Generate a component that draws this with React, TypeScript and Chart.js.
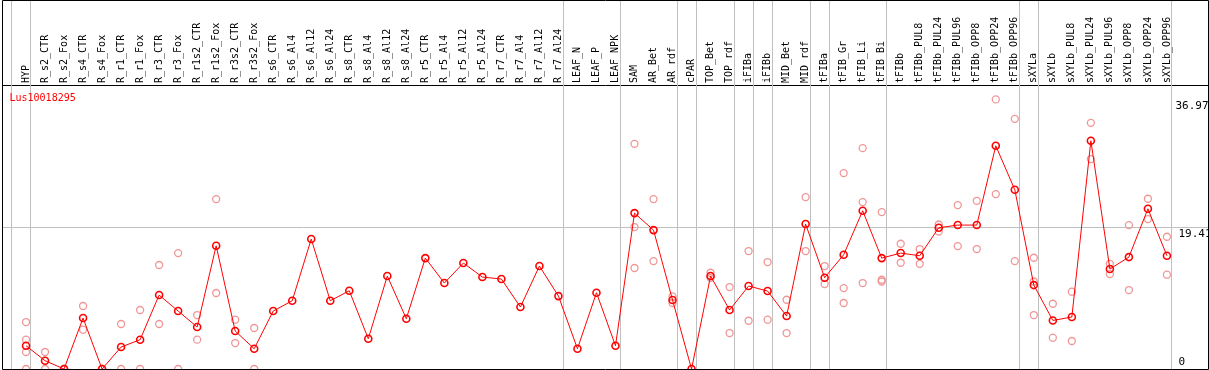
import React, { useEffect, useRef } from "react";
import { Chart, registerables } from "chart.js";

Chart.register(...registerables);

const title = "Lus10018295";

const categories = [
  "HYP", "R_s2_CTR", "R_s2_Fox", "R_s4_CTR", "R_s4_Fox", "R_r1_CTR", "R_r1_Fox", "R_r3_CTR", "R_r3_Fox",
  "R_r1s2_CTR", "R_r1s2_Fox", "R_r3s2_CTR", "R_r3s2_Fox", "R_s6_CTR", "R_s6_Al4", "R_s6_Al12", "R_s6_Al24",
  "R_s8_CTR", "R_s8_Al4", "R_s8_Al12", "R_s8_Al24", "R_r5_CTR", "R_r5_Al4", "R_r5_Al12", "R_r5_Al24",
  "R_r7_CTR", "R_r7_Al4", "R_r7_Al12", "R_r7_Al24", "LEAF_N", "LEAF_P", "LEAF_NPK", "SAM", "AR_Bet", "AR_rdf",
  "cPAR", "TOP_Bet", "TOP_rdf", "iFIBa", "iFIBb", "MID_Bet", "MID_rdf", "tFIBa", "tFIB_Gr", "tFIB_Li", "tFIB_Bi",
  "tFIBb", "tFIBb_PUL8", "tFIBb_PUL24", "tFIBb_PUL96", "tFIBb_OPP8", "tFIBb_OPP24", "tFIBb_OPP96", "sXYLa",
  "sXYLb", "sXYLb_PUL8", "sXYLb_PUL24", "sXYLb_PUL96", "sXYLb_OPP8", "sXYLb_OPP24", "sXYLb_OPP96",
];

const meanValues = [
  3.19, 1.14, 0, 6.99, 0, 3.01, 4.02, 10.14, 7.95, 5.76, 16.9, 5.21, 2.78,
  7.95, 9.36, 17.82, 9.36, 10.73, 4.15, 12.75, 6.9, 15.21, 11.79, 14.53, 12.61, 12.34, 8.5, 14.12, 10.0,
  2.78, 10.46, 3.19, 21.38, 19.05, 9.46, 0, 12.75, 8.09, 11.38, 10.69, 7.26, 19.88, 12.52, 15.67, 21.7, 15.21,
  15.9, 15.53, 19.37, 19.74, 19.74, 30.61, 24.58, 11.51, 6.66, 7.13, 31.3, 13.71, 15.35, 21.97, 15.53,
];

const N = null;
const rep1 = [
  6.44, 2.33, 0, 8.64, 0, 6.17, 8.09, 14.26, 15.9, 7.4, 23.3, 6.76, 5.62,
  N, N, N, N, N, N, N, N, N, N, N, N, N, N, N, N,
  N, N, N, 30.88, 23.3, 9.95, N, 13.2, 11.24, 16.18, 14.67, 9.5, 23.58, 14.12, 26.87, 30.29, 21.52,
  17.18, 16.45, 19.82, 22.48, 23.07, 36.97, 34.31, 15.26, 8.95, 10.6, 33.76, 14.43, 19.74, 23.35, 18.14,
];
const rep2 = [
  4.02, 0, 0, 5.39, 0, 0, 0, 6.17, 0, 4.02, 10.42, 3.56, 0,
  N, N, N, N, N, N, N, N, N, N, N, N, N, N, N, N,
  N, N, N, 19.47, 14.8, 9.05, N, 12.5, 4.93, 6.62, 6.76, 4.93, 16.18, 11.65, 11.1, 22.89, 12.24,
  14.57, 14.43, 18.86, 16.86, 16.45, 23.99, 14.8, 12.0, 4.29, 3.84, 28.79, 13.02, 10.83, 20.56, 12.93,
];
const rep3 = [
  2.33, N, N, N, N, N, N, N, N, N, N, N, N,
  N, N, N, N, N, N, N, N, N, N, N, N, N, N, N, N,
  N, N, N, 13.85, N, N, N, N, N, N, N, N, N, N, 9.05, 11.79, 12.0,
  N, N, N, N, N, N, N, 7.4, N, N, N, N, N, N, N,
];
const rep4 = [
  0, N, N, N, N, N, N, N, N, N, N, N, N,
  N, N, N, N, N, N, N, N, N, N, N, N, N, N, N, N,
  N, N, N, N, N, N, N, N, N, N, N, N, N, N, N, N, N,
  N, N, N, N, N, N, N, N, N, N, N, N, N, N, N,
];

// index of the category after which a group separator is drawn
const separatorsAfter = [-1, 0, 28, 31, 34, 35, 37, 38, 39, 41, 42, 45, 52, 53, 60];
const yLabels = [0, 19.41, 36.97];
const yGrid = [19.41];

const toPoints = (arr: (number | null)[]) =>
  arr.map((v, i) => ({ x: i, y: v })).filter((p) => p.y !== null);

const MONO = "'DejaVu Sans Mono', 'Liberation Mono', monospace";

export default function App() {
  const ref = useRef<HTMLCanvasElement | null>(null);

  useEffect(() => {
    document.body.style.margin = "0";
    const canvas = ref.current;
    if (!canvas) return;

    const decor = {
      id: "decor",
      beforeDatasetsDraw(chart: any) {
        const ctx = chart.ctx;
        const xs = chart.scales.x;
        const area = chart.chartArea;
        ctx.save();
        ctx.strokeStyle = "#c0c0c0";
        ctx.lineWidth = 1;
        separatorsAfter.forEach((i) => {
          const px = Math.round(xs.getPixelForValue(i + 0.226)) + 0.5;
          ctx.beginPath();
          ctx.moveTo(px, 0);
          ctx.lineTo(px, area.bottom);
          ctx.stroke();
        });
        ctx.restore();
      },
      afterDraw(chart: any) {
        const ctx = chart.ctx;
        const ys = chart.scales.y;
        const area = chart.chartArea;
        ctx.save();
        // frame
        ctx.strokeStyle = "#000";
        ctx.lineWidth = 1;
        ctx.beginPath();
        ctx.moveTo(area.left + 0.5, 0.5);
        ctx.lineTo(area.right + 0.5, 0.5);
        ctx.lineTo(area.right + 0.5, area.bottom + 0.5);
        ctx.lineTo(area.left + 0.5, area.bottom + 0.5);
        ctx.closePath();
        ctx.stroke();
        // title
        ctx.fillStyle = "#ff0000";
        ctx.font = `10px ${MONO}`;
        ctx.textAlign = "left";
        ctx.textBaseline = "alphabetic";
        ctx.fillText(title, 9.5, area.top + 16);
        // y labels
        ctx.fillStyle = "#000";
        ctx.font = `11px ${MONO}`;
        yLabels.forEach((v) => {
          const py = ys.getPixelForValue(v);
          const base = Math.min(py + 10, area.bottom - 4);
          const text = String(v);
          const w = ctx.measureText(text).width;
          const left = Math.min(1178.5, area.right - w + 0.5);
          ctx.fillText(text, v === 19.41 ? 1178.5 : left, base);
        });
        ctx.restore();
      },
    };

    const repStyle = {
      showLine: false,
      pointStyle: "circle",
      pointRadius: 3.5,
      pointBorderWidth: 1.3,
      pointBorderColor: "rgb(240,150,150)",
      pointBackgroundColor: "rgba(0,0,0,0)",
      borderColor: "rgb(240,150,150)",
    };

    const chart = new Chart(canvas, {
      type: "line",
      data: {
        datasets: [
          {
            data: toPoints(meanValues),
            borderColor: "#ff0000",
            borderWidth: 1,
            pointStyle: "circle",
            pointRadius: 3.5,
            pointBorderWidth: 1.6,
            pointBorderColor: "#ff0000",
            pointBackgroundColor: "rgba(0,0,0,0)",
            tension: 0,
          },
          { data: toPoints(rep1), ...repStyle },
          { data: toPoints(rep2), ...repStyle },
          { data: toPoints(rep3), ...repStyle },
          { data: toPoints(rep4), ...repStyle },
        ] as any,
      },
      plugins: [decor],
      options: {
        responsive: false,
        animation: false,
        events: [],
        layout: { autoPadding: false, padding: { left: 2, right: 1, top: 0, bottom: 1 } },
        plugins: { legend: { display: false }, tooltip: { enabled: false }, title: { display: false } },
        scales: {
          x: {
            type: "linear",
            position: "top",
            min: -1.263,
            max: 62.16,
            afterBuildTicks: (scale: any) => {
              scale.ticks = categories.map((_, i) => ({ value: i }));
            },
            afterFit: (scale: any) => {
              scale.height = 85;
              scale.paddingLeft = 0;
              scale.paddingRight = 0;
              scale.paddingTop = 0;
              scale.paddingBottom = 0;
            },
            ticks: {
              autoSkip: false,
              maxRotation: 90,
              minRotation: 90,
              padding: 2,
              labelOffset: 12,
              color: "#000",
              font: { family: MONO, size: 10 },
              callback: (v: any) => categories[v as number] ?? "",
            },
            grid: { display: false, drawTicks: false },
            border: { display: true, color: "#000", width: 1 },
          },
          y: {
            type: "linear",
            position: "right",
            min: 0,
            max: 38.95,
            afterBuildTicks: (scale: any) => {
              scale.ticks = yGrid.map((v) => ({ value: v }));
            },
            afterFit: (scale: any) => {
              scale.width = 0;
              scale.paddingTop = 0;
              scale.paddingBottom = 0;
            },
            ticks: { display: false },
            grid: { color: "#c0c0c0", lineWidth: 1, drawTicks: false },
            border: { display: false },
          },
        },
      } as any,
    });

    return () => chart.destroy();
  }, []);

  return (
    <div style={{ width: 1209, height: 370 }}>
      <canvas ref={ref} width={1209} height={370} style={{ display: "block" }} />
    </div>
  );
}
